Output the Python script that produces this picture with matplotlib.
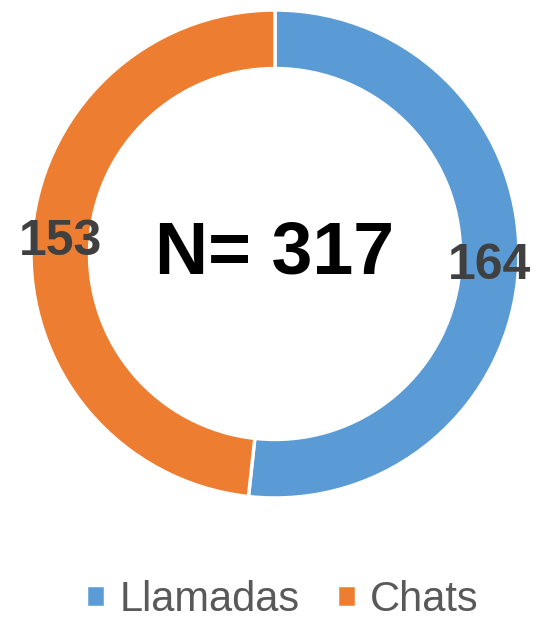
import matplotlib.pyplot as plt

# contact channels
categories = ['Llamadas', 'Chats']
values = [164, 153]
colors = ['#5B9BD5', '#ED7D31']
total = sum(values)

plt.rcParams['font.family'] = ['Liberation Sans', 'DejaVu Sans']

fig = plt.figure(figsize=(5.36, 6.18), dpi=100)
# square axes holding the ring, radius 244 px around (275, 254)
ax = fig.add_axes([(275 - 244) / 536, (618 - 254 - 244) / 618, 488 / 536, 488 / 618])

wedges, texts, autotexts = ax.pie(
    values, colors=colors, startangle=90, counterclock=False, radius=1,
    autopct=lambda p: f'{p * total / 100:.0f}', pctdistance=0.88,
    wedgeprops=dict(width=0.24, edgecolor='white', linewidth=2.5),
    textprops=dict(fontsize=36, fontweight='bold', color='#404040'))
ax.set_xlim(-1, 1)
ax.set_ylim(-1, 1)
ax.set_aspect('equal')

ax.text(0, 0, f'N= {total}', ha='center', va='center', fontsize=53,
        fontweight='bold', color='black')

fig.legend(wedges, categories, loc='center', bbox_to_anchor=(0.527, 1 - 600 / 618),
           ncol=2, frameon=False, fontsize=30, labelcolor='#595959',
           handlelength=0.45, handleheight=0.45, handletextpad=0.35, columnspacing=0.9,
           borderpad=0.1)

fig.savefig('out.png', dpi=100)
